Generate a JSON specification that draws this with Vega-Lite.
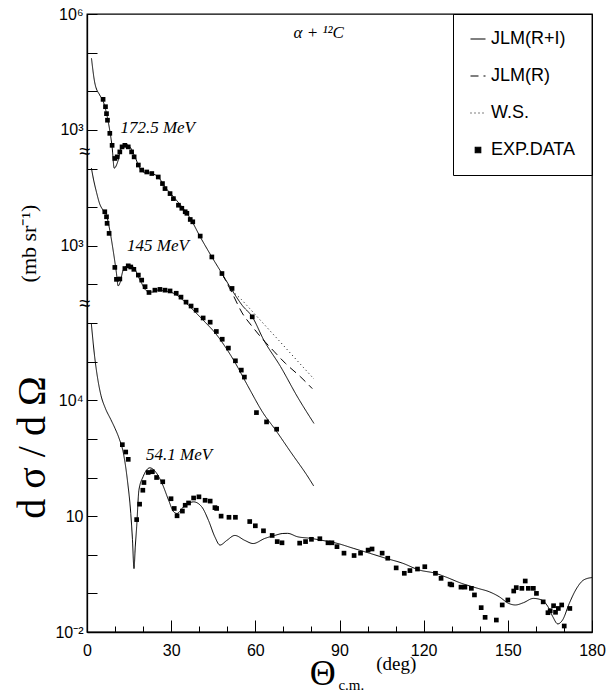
{
  "$schema": "https://vega.github.io/schema/vega-lite/v6.json",
  "width": 505,
  "height": 618,
  "autosize": "none",
  "padding": {"left": 87, "top": 14, "right": 21, "bottom": 62},
  "background": "white",
  "config": {
    "view": {"stroke": "black", "strokeWidth": 1.3},
    "font": "Liberation Sans",
    "axis": {"grid": false, "domainColor": "black", "tickColor": "black", "labelColor": "black", "domainWidth": 1.3, "tickWidth": 1, "labelOverlap": false, "labelFlush": false},
    "axisX": {
      "values": [0, 10, 20, 30, 40, 50, 60, 70, 80, 90, 100, 110, 120, 130, 140, 150, 160, 170, 180],
      "labelExpr": "datum.value % 30 === 0 ? datum.label : ''",
      "labelPadding": 22,
      "labelFontSize": 16,
      "labelFont": "Liberation Sans",
      "title": null
    }
  },
  "datasets": {
    "curves": [
      {"energy": "172.5 MeV", "model": "JLM(R+I)", "theta": 1.6, "sigma": 71000},
      {"energy": "172.5 MeV", "model": "JLM(R+I)", "theta": 2.8, "sigma": 16200},
      {"energy": "172.5 MeV", "model": "JLM(R+I)", "theta": 4.55, "sigma": 7940},
      {"energy": "172.5 MeV", "model": "JLM(R+I)", "theta": 5.6, "sigma": 5890},
      {"energy": "172.5 MeV", "model": "JLM(R+I)", "theta": 6.95, "sigma": 2690},
      {"energy": "172.5 MeV", "model": "JLM(R+I)", "theta": 8.1, "sigma": 977},
      {"energy": "172.5 MeV", "model": "JLM(R+I)", "theta": 8.95, "sigma": 363},
      {"energy": "172.5 MeV", "model": "JLM(R+I)", "theta": 9.7, "sigma": 102},
      {"energy": "172.5 MeV", "model": "JLM(R+I)", "theta": 11.1, "sigma": 162},
      {"energy": "172.5 MeV", "model": "JLM(R+I)", "theta": 12.3, "sigma": 363},
      {"energy": "172.5 MeV", "model": "JLM(R+I)", "theta": 13.5, "sigma": 427},
      {"energy": "172.5 MeV", "model": "JLM(R+I)", "theta": 15.3, "sigma": 363},
      {"energy": "172.5 MeV", "model": "JLM(R+I)", "theta": 17.1, "sigma": 200},
      {"energy": "172.5 MeV", "model": "JLM(R+I)", "theta": 18.9, "sigma": 100},
      {"energy": "172.5 MeV", "model": "JLM(R+I)", "theta": 20.05, "sigma": 81.3},
      {"energy": "172.5 MeV", "model": "JLM(R+I)", "theta": 23.1, "sigma": 74.1},
      {"energy": "172.5 MeV", "model": "JLM(R+I)", "theta": 25.4, "sigma": 60.3},
      {"energy": "172.5 MeV", "model": "JLM(R+I)", "theta": 27.8, "sigma": 33.1},
      {"energy": "172.5 MeV", "model": "JLM(R+I)", "theta": 30.8, "sigma": 18.6},
      {"energy": "172.5 MeV", "model": "JLM(R+I)", "theta": 33.8, "sigma": 10.2},
      {"energy": "172.5 MeV", "model": "JLM(R+I)", "theta": 36.8, "sigma": 5.13},
      {"energy": "172.5 MeV", "model": "JLM(R+I)", "theta": 40.35, "sigma": 1.7},
      {"energy": "172.5 MeV", "model": "JLM(R+I)", "theta": 44.5, "sigma": 0.513},
      {"energy": "172.5 MeV", "model": "JLM(R+I)", "theta": 48.1, "sigma": 0.191},
      {"energy": "172.5 MeV", "model": "JLM(R+I)", "theta": 51.7, "sigma": 0.0708},
      {"energy": "172.5 MeV", "model": "JLM(R+I)", "theta": 55.3, "sigma": 0.0288},
      {"energy": "172.5 MeV", "model": "JLM(R+I)", "theta": 58.9, "sigma": 0.01445},
      {"energy": "172.5 MeV", "model": "JLM(R+I)", "theta": 63.0, "sigma": 0.00363},
      {"energy": "172.5 MeV", "model": "JLM(R+I)", "theta": 69.0, "sigma": 0.000741},
      {"energy": "172.5 MeV", "model": "JLM(R+I)", "theta": 75.0, "sigma": 0.000123},
      {"energy": "172.5 MeV", "model": "JLM(R+I)", "theta": 80.9, "sigma": 0.0000251},
      {"energy": "172.5 MeV", "model": "JLM(R)", "theta": 48.1, "sigma": 0.191},
      {"energy": "172.5 MeV", "model": "JLM(R)", "theta": 51.7, "sigma": 0.0603},
      {"energy": "172.5 MeV", "model": "JLM(R)", "theta": 55.3, "sigma": 0.0182},
      {"energy": "172.5 MeV", "model": "JLM(R)", "theta": 58.9, "sigma": 0.0081},
      {"energy": "172.5 MeV", "model": "JLM(R)", "theta": 61.9, "sigma": 0.00437},
      {"energy": "172.5 MeV", "model": "JLM(R)", "theta": 66.6, "sigma": 0.00186},
      {"energy": "172.5 MeV", "model": "JLM(R)", "theta": 70.8, "sigma": 0.000891},
      {"energy": "172.5 MeV", "model": "JLM(R)", "theta": 76.2, "sigma": 0.000398},
      {"energy": "172.5 MeV", "model": "JLM(R)", "theta": 80.3, "sigma": 0.0002},
      {"energy": "172.5 MeV", "model": "W.S.", "theta": 48.1, "sigma": 0.191},
      {"energy": "172.5 MeV", "model": "W.S.", "theta": 51.7, "sigma": 0.0708},
      {"energy": "172.5 MeV", "model": "W.S.", "theta": 55.0, "sigma": 0.0408},
      {"energy": "172.5 MeV", "model": "W.S.", "theta": 57.0, "sigma": 0.0284},
      {"energy": "172.5 MeV", "model": "W.S.", "theta": 61.0, "sigma": 0.01365},
      {"energy": "172.5 MeV", "model": "W.S.", "theta": 65.0, "sigma": 0.00656},
      {"energy": "172.5 MeV", "model": "W.S.", "theta": 69.0, "sigma": 0.00316},
      {"energy": "172.5 MeV", "model": "W.S.", "theta": 73.0, "sigma": 0.00151},
      {"energy": "172.5 MeV", "model": "W.S.", "theta": 77.0, "sigma": 0.000724},
      {"energy": "172.5 MeV", "model": "W.S.", "theta": 80.9, "sigma": 0.000355},
      {"energy": "145 MeV", "model": "JLM(R+I)", "theta": 1.58, "sigma": 102000},
      {"energy": "145 MeV", "model": "JLM(R+I)", "theta": 2.15, "sigma": 60300},
      {"energy": "145 MeV", "model": "JLM(R+I)", "theta": 3.37, "sigma": 24500},
      {"energy": "145 MeV", "model": "JLM(R+I)", "theta": 4.55, "sigma": 12000},
      {"energy": "145 MeV", "model": "JLM(R+I)", "theta": 5.73, "sigma": 8320},
      {"energy": "145 MeV", "model": "JLM(R+I)", "theta": 6.95, "sigma": 6170},
      {"energy": "145 MeV", "model": "JLM(R+I)", "theta": 8.13, "sigma": 2510},
      {"energy": "145 MeV", "model": "JLM(R+I)", "theta": 9.3, "sigma": 776},
      {"energy": "145 MeV", "model": "JLM(R+I)", "theta": 10.5, "sigma": 195},
      {"energy": "145 MeV", "model": "JLM(R+I)", "theta": 11.1, "sigma": 91.2},
      {"energy": "145 MeV", "model": "JLM(R+I)", "theta": 11.7, "sigma": 107},
      {"energy": "145 MeV", "model": "JLM(R+I)", "theta": 12.9, "sigma": 234},
      {"energy": "145 MeV", "model": "JLM(R+I)", "theta": 14.7, "sigma": 316},
      {"energy": "145 MeV", "model": "JLM(R+I)", "theta": 16.5, "sigma": 282},
      {"energy": "145 MeV", "model": "JLM(R+I)", "theta": 18.9, "sigma": 129},
      {"energy": "145 MeV", "model": "JLM(R+I)", "theta": 21.3, "sigma": 67.6},
      {"energy": "145 MeV", "model": "JLM(R+I)", "theta": 23.2, "sigma": 63.1},
      {"energy": "145 MeV", "model": "JLM(R+I)", "theta": 25.0, "sigma": 70.8},
      {"energy": "145 MeV", "model": "JLM(R+I)", "theta": 27.8, "sigma": 67.6},
      {"energy": "145 MeV", "model": "JLM(R+I)", "theta": 31.4, "sigma": 56.2},
      {"energy": "145 MeV", "model": "JLM(R+I)", "theta": 35.0, "sigma": 34.7},
      {"energy": "145 MeV", "model": "JLM(R+I)", "theta": 38.6, "sigma": 19.1},
      {"energy": "145 MeV", "model": "JLM(R+I)", "theta": 42.1, "sigma": 10.5},
      {"energy": "145 MeV", "model": "JLM(R+I)", "theta": 45.7, "sigma": 5.5},
      {"energy": "145 MeV", "model": "JLM(R+I)", "theta": 49.3, "sigma": 2.4},
      {"energy": "145 MeV", "model": "JLM(R+I)", "theta": 52.9, "sigma": 0.912},
      {"energy": "145 MeV", "model": "JLM(R+I)", "theta": 56.5, "sigma": 0.302},
      {"energy": "145 MeV", "model": "JLM(R+I)", "theta": 58.3, "sigma": 0.174},
      {"energy": "145 MeV", "model": "JLM(R+I)", "theta": 62.6, "sigma": 0.049},
      {"energy": "145 MeV", "model": "JLM(R+I)", "theta": 67.2, "sigma": 0.017},
      {"energy": "145 MeV", "model": "JLM(R+I)", "theta": 72.6, "sigma": 0.00457},
      {"energy": "145 MeV", "model": "JLM(R+I)", "theta": 79.0, "sigma": 0.000977},
      {"energy": "145 MeV", "model": "JLM(R+I)", "theta": 80.8, "sigma": 0.000603},
      {"energy": "54.1 MeV", "model": "JLM(R+I)", "theta": 1.55, "sigma": 955000},
      {"energy": "54.1 MeV", "model": "JLM(R+I)", "theta": 2.74, "sigma": 132000},
      {"energy": "54.1 MeV", "model": "JLM(R+I)", "theta": 3.9, "sigma": 33100},
      {"energy": "54.1 MeV", "model": "JLM(R+I)", "theta": 5.0, "sigma": 13200},
      {"energy": "54.1 MeV", "model": "JLM(R+I)", "theta": 6.5, "sigma": 6310},
      {"energy": "54.1 MeV", "model": "JLM(R+I)", "theta": 8.5, "sigma": 3160},
      {"energy": "54.1 MeV", "model": "JLM(R+I)", "theta": 10.0, "sigma": 1860},
      {"energy": "54.1 MeV", "model": "JLM(R+I)", "theta": 11.4, "sigma": 1050},
      {"energy": "54.1 MeV", "model": "JLM(R+I)", "theta": 13.0, "sigma": 417},
      {"energy": "54.1 MeV", "model": "JLM(R+I)", "theta": 14.4, "sigma": 85.1},
      {"energy": "54.1 MeV", "model": "JLM(R+I)", "theta": 15.6, "sigma": 11.7},
      {"energy": "54.1 MeV", "model": "JLM(R+I)", "theta": 16.2, "sigma": 2.51},
      {"energy": "54.1 MeV", "model": "JLM(R+I)", "theta": 16.75, "sigma": 0.437},
      {"energy": "54.1 MeV", "model": "JLM(R+I)", "theta": 17.2, "sigma": 1.58},
      {"energy": "54.1 MeV", "model": "JLM(R+I)", "theta": 17.7, "sigma": 5.25},
      {"energy": "54.1 MeV", "model": "JLM(R+I)", "theta": 18.5, "sigma": 46.8},
      {"energy": "54.1 MeV", "model": "JLM(R+I)", "theta": 20.0, "sigma": 105},
      {"energy": "54.1 MeV", "model": "JLM(R+I)", "theta": 22.4, "sigma": 178},
      {"energy": "54.1 MeV", "model": "JLM(R+I)", "theta": 24.4, "sigma": 141},
      {"energy": "54.1 MeV", "model": "JLM(R+I)", "theta": 26.8, "sigma": 69.2},
      {"energy": "54.1 MeV", "model": "JLM(R+I)", "theta": 29.1, "sigma": 25.7},
      {"energy": "54.1 MeV", "model": "JLM(R+I)", "theta": 30.9, "sigma": 12.9},
      {"energy": "54.1 MeV", "model": "JLM(R+I)", "theta": 32.1, "sigma": 11.7},
      {"energy": "54.1 MeV", "model": "JLM(R+I)", "theta": 34.4, "sigma": 17.4},
      {"energy": "54.1 MeV", "model": "JLM(R+I)", "theta": 38.0, "sigma": 23.4},
      {"energy": "54.1 MeV", "model": "JLM(R+I)", "theta": 40.9, "sigma": 17.4},
      {"energy": "54.1 MeV", "model": "JLM(R+I)", "theta": 43.3, "sigma": 7.76},
      {"energy": "54.1 MeV", "model": "JLM(R+I)", "theta": 45.6, "sigma": 2.88},
      {"energy": "54.1 MeV", "model": "JLM(R+I)", "theta": 47.4, "sigma": 1.78},
      {"energy": "54.1 MeV", "model": "JLM(R+I)", "theta": 49.8, "sigma": 2.34},
      {"energy": "54.1 MeV", "model": "JLM(R+I)", "theta": 52.7, "sigma": 3.16},
      {"energy": "54.1 MeV", "model": "JLM(R+I)", "theta": 56.3, "sigma": 2.34},
      {"energy": "54.1 MeV", "model": "JLM(R+I)", "theta": 59.2, "sigma": 1.95},
      {"energy": "54.1 MeV", "model": "JLM(R+I)", "theta": 63.3, "sigma": 2.63},
      {"energy": "54.1 MeV", "model": "JLM(R+I)", "theta": 66.9, "sigma": 3.16},
      {"energy": "54.1 MeV", "model": "JLM(R+I)", "theta": 69.8, "sigma": 3.55},
      {"energy": "54.1 MeV", "model": "JLM(R+I)", "theta": 71.5, "sigma": 3.58},
      {"energy": "54.1 MeV", "model": "JLM(R+I)", "theta": 75.0, "sigma": 2.93},
      {"energy": "54.1 MeV", "model": "JLM(R+I)", "theta": 79.7, "sigma": 2.66},
      {"energy": "54.1 MeV", "model": "JLM(R+I)", "theta": 83.2, "sigma": 2.4},
      {"energy": "54.1 MeV", "model": "JLM(R+I)", "theta": 89.1, "sigma": 1.98},
      {"energy": "54.1 MeV", "model": "JLM(R+I)", "theta": 94.9, "sigma": 1.47},
      {"energy": "54.1 MeV", "model": "JLM(R+I)", "theta": 100.8, "sigma": 1.09},
      {"energy": "54.1 MeV", "model": "JLM(R+I)", "theta": 106.6, "sigma": 0.807},
      {"energy": "54.1 MeV", "model": "JLM(R+I)", "theta": 112.5, "sigma": 0.603},
      {"energy": "54.1 MeV", "model": "JLM(R+I)", "theta": 118.4, "sigma": 0.403},
      {"energy": "54.1 MeV", "model": "JLM(R+I)", "theta": 124.2, "sigma": 0.331},
      {"energy": "54.1 MeV", "model": "JLM(R+I)", "theta": 127.7, "sigma": 0.269},
      {"energy": "54.1 MeV", "model": "JLM(R+I)", "theta": 133.5, "sigma": 0.182},
      {"energy": "54.1 MeV", "model": "JLM(R+I)", "theta": 139.3, "sigma": 0.135},
      {"energy": "54.1 MeV", "model": "JLM(R+I)", "theta": 143.4, "sigma": 0.11},
      {"energy": "54.1 MeV", "model": "JLM(R+I)", "theta": 146.9, "sigma": 0.082},
      {"energy": "54.1 MeV", "model": "JLM(R+I)", "theta": 150.3, "sigma": 0.055},
      {"energy": "54.1 MeV", "model": "JLM(R+I)", "theta": 152.7, "sigma": 0.0501},
      {"energy": "54.1 MeV", "model": "JLM(R+I)", "theta": 155.6, "sigma": 0.0575},
      {"energy": "54.1 MeV", "model": "JLM(R+I)", "theta": 159.1, "sigma": 0.0741},
      {"energy": "54.1 MeV", "model": "JLM(R+I)", "theta": 162.0, "sigma": 0.0676},
      {"energy": "54.1 MeV", "model": "JLM(R+I)", "theta": 164.3, "sigma": 0.0452},
      {"energy": "54.1 MeV", "model": "JLM(R+I)", "theta": 166.0, "sigma": 0.0251},
      {"energy": "54.1 MeV", "model": "JLM(R+I)", "theta": 167.8, "sigma": 0.0162},
      {"energy": "54.1 MeV", "model": "JLM(R+I)", "theta": 169.5, "sigma": 0.0204},
      {"energy": "54.1 MeV", "model": "JLM(R+I)", "theta": 171.9, "sigma": 0.055},
      {"energy": "54.1 MeV", "model": "JLM(R+I)", "theta": 174.2, "sigma": 0.123},
      {"energy": "54.1 MeV", "model": "JLM(R+I)", "theta": 177.1, "sigma": 0.224},
      {"energy": "54.1 MeV", "model": "JLM(R+I)", "theta": 180.0, "sigma": 0.257}
    ],
    "points": [
      {"energy": "172.5 MeV", "theta": 5.73, "sigma": 6170},
      {"energy": "172.5 MeV", "theta": 6.59, "sigma": 3980},
      {"energy": "172.5 MeV", "theta": 6.95, "sigma": 2630},
      {"energy": "172.5 MeV", "theta": 7.3, "sigma": 1780},
      {"energy": "172.5 MeV", "theta": 8.13, "sigma": 813},
      {"energy": "172.5 MeV", "theta": 8.95, "sigma": 398},
      {"energy": "172.5 MeV", "theta": 9.92, "sigma": 182},
      {"energy": "172.5 MeV", "theta": 10.74, "sigma": 200},
      {"energy": "172.5 MeV", "theta": 11.7, "sigma": 269},
      {"energy": "172.5 MeV", "theta": 12.5, "sigma": 363},
      {"energy": "172.5 MeV", "theta": 13.5, "sigma": 398},
      {"energy": "172.5 MeV", "theta": 14.7, "sigma": 363},
      {"energy": "172.5 MeV", "theta": 15.9, "sigma": 269},
      {"energy": "172.5 MeV", "theta": 16.8, "sigma": 200},
      {"energy": "172.5 MeV", "theta": 18.3, "sigma": 123},
      {"energy": "172.5 MeV", "theta": 19.5, "sigma": 91.2},
      {"energy": "172.5 MeV", "theta": 21.3, "sigma": 81.3},
      {"energy": "172.5 MeV", "theta": 23.1, "sigma": 74.1},
      {"energy": "172.5 MeV", "theta": 25.4, "sigma": 60.3},
      {"energy": "172.5 MeV", "theta": 26.9, "sigma": 40.7},
      {"energy": "172.5 MeV", "theta": 27.8, "sigma": 30.2},
      {"energy": "172.5 MeV", "theta": 29.6, "sigma": 22.4},
      {"energy": "172.5 MeV", "theta": 30.8, "sigma": 16.6},
      {"energy": "172.5 MeV", "theta": 32.6, "sigma": 11.2},
      {"energy": "172.5 MeV", "theta": 33.8, "sigma": 9.33},
      {"energy": "172.5 MeV", "theta": 35.0, "sigma": 7.59},
      {"energy": "172.5 MeV", "theta": 35.6, "sigma": 6.92},
      {"energy": "172.5 MeV", "theta": 36.8, "sigma": 4.79},
      {"energy": "172.5 MeV", "theta": 37.7, "sigma": 4.17},
      {"energy": "172.5 MeV", "theta": 40.35, "sigma": 1.78},
      {"energy": "172.5 MeV", "theta": 44.5, "sigma": 0.513},
      {"energy": "172.5 MeV", "theta": 48.1, "sigma": 0.191},
      {"energy": "172.5 MeV", "theta": 51.7, "sigma": 0.0785},
      {"energy": "172.5 MeV", "theta": 58.9, "sigma": 0.01445},
      {"energy": "145 MeV", "theta": 6.34, "sigma": 7590},
      {"energy": "145 MeV", "theta": 6.95, "sigma": 5620},
      {"energy": "145 MeV", "theta": 7.16, "sigma": 3800},
      {"energy": "145 MeV", "theta": 7.88, "sigma": 2090},
      {"energy": "145 MeV", "theta": 9.92, "sigma": 275},
      {"energy": "145 MeV", "theta": 10.5, "sigma": 135},
      {"energy": "145 MeV", "theta": 11.7, "sigma": 138},
      {"energy": "145 MeV", "theta": 13.5, "sigma": 257},
      {"energy": "145 MeV", "theta": 14.7, "sigma": 302},
      {"energy": "145 MeV", "theta": 15.6, "sigma": 282},
      {"energy": "145 MeV", "theta": 16.7, "sigma": 245},
      {"energy": "145 MeV", "theta": 18.3, "sigma": 174},
      {"energy": "145 MeV", "theta": 19.5, "sigma": 129},
      {"energy": "145 MeV", "theta": 20.7, "sigma": 87.1},
      {"energy": "145 MeV", "theta": 22.1, "sigma": 61.7},
      {"energy": "145 MeV", "theta": 24.2, "sigma": 70.8},
      {"energy": "145 MeV", "theta": 26.0, "sigma": 74.1},
      {"energy": "145 MeV", "theta": 27.8, "sigma": 70.8},
      {"energy": "145 MeV", "theta": 29.6, "sigma": 67.6},
      {"energy": "145 MeV", "theta": 31.8, "sigma": 58.9},
      {"energy": "145 MeV", "theta": 33.5, "sigma": 46.8},
      {"energy": "145 MeV", "theta": 35.3, "sigma": 34.7},
      {"energy": "145 MeV", "theta": 37.1, "sigma": 27.5},
      {"energy": "145 MeV", "theta": 38.9, "sigma": 21.4},
      {"energy": "145 MeV", "theta": 41.4, "sigma": 13.5},
      {"energy": "145 MeV", "theta": 43.9, "sigma": 10.5},
      {"energy": "145 MeV", "theta": 46.1, "sigma": 6.03},
      {"energy": "145 MeV", "theta": 48.2, "sigma": 3.8},
      {"energy": "145 MeV", "theta": 50.4, "sigma": 2.24},
      {"energy": "145 MeV", "theta": 52.9, "sigma": 1.05},
      {"energy": "145 MeV", "theta": 55.0, "sigma": 0.603},
      {"energy": "145 MeV", "theta": 56.1, "sigma": 0.398},
      {"energy": "145 MeV", "theta": 60.4, "sigma": 0.0479},
      {"energy": "145 MeV", "theta": 64.0, "sigma": 0.0275},
      {"energy": "145 MeV", "theta": 67.6, "sigma": 0.0178},
      {"energy": "54.1 MeV", "theta": 12.6, "sigma": 708},
      {"energy": "54.1 MeV", "theta": 13.8, "sigma": 457},
      {"energy": "54.1 MeV", "theta": 14.7, "sigma": 295},
      {"energy": "54.1 MeV", "theta": 17.7, "sigma": 8.13},
      {"energy": "54.1 MeV", "theta": 18.75, "sigma": 20.4},
      {"energy": "54.1 MeV", "theta": 19.9, "sigma": 46.8},
      {"energy": "54.1 MeV", "theta": 20.3, "sigma": 74.1},
      {"energy": "54.1 MeV", "theta": 21.8, "sigma": 135},
      {"energy": "54.1 MeV", "theta": 23.3, "sigma": 141},
      {"energy": "54.1 MeV", "theta": 24.8, "sigma": 100},
      {"energy": "54.1 MeV", "theta": 27.0, "sigma": 77.6},
      {"energy": "54.1 MeV", "theta": 29.95, "sigma": 28.2},
      {"energy": "54.1 MeV", "theta": 31.1, "sigma": 15.8},
      {"energy": "54.1 MeV", "theta": 32.1, "sigma": 10.2},
      {"energy": "54.1 MeV", "theta": 34.0, "sigma": 13.5},
      {"energy": "54.1 MeV", "theta": 35.0, "sigma": 19.1},
      {"energy": "54.1 MeV", "theta": 36.2, "sigma": 21.9},
      {"energy": "54.1 MeV", "theta": 38.0, "sigma": 29.5},
      {"energy": "54.1 MeV", "theta": 39.9, "sigma": 31.6},
      {"energy": "54.1 MeV", "theta": 42.1, "sigma": 25.7},
      {"energy": "54.1 MeV", "theta": 43.9, "sigma": 24.5},
      {"energy": "54.1 MeV", "theta": 45.6, "sigma": 16.6},
      {"energy": "54.1 MeV", "theta": 46.2, "sigma": 15.8},
      {"energy": "54.1 MeV", "theta": 47.8, "sigma": 10.0},
      {"energy": "54.1 MeV", "theta": 50.6, "sigma": 9.33},
      {"energy": "54.1 MeV", "theta": 52.9, "sigma": 9.33},
      {"energy": "54.1 MeV", "theta": 58.0, "sigma": 7.24},
      {"energy": "54.1 MeV", "theta": 60.0, "sigma": 5.62},
      {"energy": "54.1 MeV", "theta": 62.9, "sigma": 4.17},
      {"energy": "54.1 MeV", "theta": 66.0, "sigma": 3.16},
      {"energy": "54.1 MeV", "theta": 67.8, "sigma": 2.19},
      {"energy": "54.1 MeV", "theta": 69.5, "sigma": 2.04},
      {"energy": "54.1 MeV", "theta": 75.8, "sigma": 2.0},
      {"energy": "54.1 MeV", "theta": 77.9, "sigma": 2.19},
      {"energy": "54.1 MeV", "theta": 80.0, "sigma": 2.51},
      {"energy": "54.1 MeV", "theta": 83.0, "sigma": 2.6},
      {"energy": "54.1 MeV", "theta": 85.9, "sigma": 2.04},
      {"energy": "54.1 MeV", "theta": 87.3, "sigma": 2.04},
      {"energy": "54.1 MeV", "theta": 89.1, "sigma": 1.62},
      {"energy": "54.1 MeV", "theta": 91.6, "sigma": 1.1},
      {"energy": "54.1 MeV", "theta": 95.2, "sigma": 0.955},
      {"energy": "54.1 MeV", "theta": 97.5, "sigma": 1.1},
      {"energy": "54.1 MeV", "theta": 100.2, "sigma": 1.32},
      {"energy": "54.1 MeV", "theta": 101.6, "sigma": 1.41},
      {"energy": "54.1 MeV", "theta": 105.2, "sigma": 1.1},
      {"energy": "54.1 MeV", "theta": 107.2, "sigma": 0.813},
      {"energy": "54.1 MeV", "theta": 110.2, "sigma": 0.457},
      {"energy": "54.1 MeV", "theta": 113.1, "sigma": 0.331},
      {"energy": "54.1 MeV", "theta": 115.1, "sigma": 0.389},
      {"energy": "54.1 MeV", "theta": 117.8, "sigma": 0.427},
      {"energy": "54.1 MeV", "theta": 120.4, "sigma": 0.49},
      {"energy": "54.1 MeV", "theta": 124.2, "sigma": 0.331},
      {"energy": "54.1 MeV", "theta": 126.2, "sigma": 0.245},
      {"energy": "54.1 MeV", "theta": 129.4, "sigma": 0.174},
      {"energy": "54.1 MeV", "theta": 130.0, "sigma": 0.166},
      {"energy": "54.1 MeV", "theta": 133.3, "sigma": 0.145},
      {"energy": "54.1 MeV", "theta": 134.7, "sigma": 0.145},
      {"energy": "54.1 MeV", "theta": 137.0, "sigma": 0.135},
      {"energy": "54.1 MeV", "theta": 138.1, "sigma": 0.0912},
      {"energy": "54.1 MeV", "theta": 140.5, "sigma": 0.0427},
      {"energy": "54.1 MeV", "theta": 141.9, "sigma": 0.024},
      {"energy": "54.1 MeV", "theta": 145.9, "sigma": 0.0204},
      {"energy": "54.1 MeV", "theta": 148.0, "sigma": 0.0501},
      {"energy": "54.1 MeV", "theta": 150.0, "sigma": 0.0676},
      {"energy": "54.1 MeV", "theta": 152.1, "sigma": 0.115},
      {"energy": "54.1 MeV", "theta": 153.0, "sigma": 0.141},
      {"energy": "54.1 MeV", "theta": 155.0, "sigma": 0.135},
      {"energy": "54.1 MeV", "theta": 156.2, "sigma": 0.209},
      {"energy": "54.1 MeV", "theta": 157.3, "sigma": 0.135},
      {"energy": "54.1 MeV", "theta": 159.1, "sigma": 0.135},
      {"energy": "54.1 MeV", "theta": 160.2, "sigma": 0.1},
      {"energy": "54.1 MeV", "theta": 162.6, "sigma": 0.0603},
      {"energy": "54.1 MeV", "theta": 164.3, "sigma": 0.0316},
      {"energy": "54.1 MeV", "theta": 165.1, "sigma": 0.0355},
      {"energy": "54.1 MeV", "theta": 166.3, "sigma": 0.0479},
      {"energy": "54.1 MeV", "theta": 167.0, "sigma": 0.0324},
      {"energy": "54.1 MeV", "theta": 168.0, "sigma": 0.0407},
      {"energy": "54.1 MeV", "theta": 169.2, "sigma": 0.0501},
      {"energy": "54.1 MeV", "theta": 170.1, "sigma": 0.0143},
      {"energy": "54.1 MeV", "theta": 172.1, "sigma": 0.0407}
    ]
  },
  "layer": [
    {
      "data": {"name": "curves"},
      "transform": [{"filter": "datum.energy === '172.5 MeV'"}],
      "mark": {"type": "line", "color": "black", "strokeWidth": 1, "interpolate": "monotone"},
      "encoding": {
        "x": {"field": "theta", "type": "quantitative", "scale": {"domain": [0, 180], "nice": false, "zero": false}, "axis": {"title": null, "tickSize": {"condition": {"test": "datum.value % 30 === 0", "value": -12}, "value": -6}}},
        "y": {
          "field": "sigma",
          "type": "quantitative",
          "scale": {"type": "log", "domain": [1e-10, 1000000], "nice": false},
          "axis": {
            "orient": "left",
            "values": [1000, 10000, 100000, 1000000],
            "labelExpr": "datum.value == 1000 ? '10³' : datum.value == 1000000 ? '10⁶' : ''",
            "tickSize": -10,
            "labelPadding": 14,
            "labelFontSize": 16,
            "domain": false,
            "title": "(mb sr⁻¹)",
            "titleFont": "Liberation Serif",
            "titleFontSize": 22,
            "titleFontWeight": "normal",
            "titleX": -59,
            "titleY": 229,
            "titleAngle": 270,
            "titleAlign": "center",
            "titleBaseline": "middle"
          }
        },
        "strokeDash": {
          "field": "model",
          "type": "nominal",
          "scale": {"domain": ["JLM(R+I)", "JLM(R)", "W.S.", "EXP.DATA"], "range": [[1, 0], [8, 5], [1, 3], [1, 0]]},
          "legend": {
            "orient": "top-right",
            "offset": 0,
            "title": null,
            "strokeColor": "black",
            "padding": 16,
            "rowPadding": 19,
            "labelFontSize": 18,
            "labelFont": "Liberation Sans",
            "labelColor": "black",
            "labelOffset": 4,
            "symbolType": "stroke",
            "symbolSize": 225,
            "symbolStrokeWidth": 1.2,
            "symbolStrokeColor": "black",
            "encode": {
              "symbols": {
                "update": {
                  "shape": {"signal": "datum.value === 'EXP.DATA' ? 'square' : 'stroke'"},
                  "fill": {"signal": "datum.value === 'EXP.DATA' ? 'black' : 'transparent'"},
                  "stroke": {"value": "black"},
                  "strokeWidth": {"value": 1.2},
                  "opacity": {"value": 1},
                  "strokeDash": {"scale": "strokeDash", "field": "value"},
                  "size": {"signal": "datum.value === 'EXP.DATA' ? 30 : 225"}
                }
              }
            }
          }
        }
      }
    },
    {
      "data": {"name": "points"},
      "transform": [{"filter": "datum.energy === '172.5 MeV'"}],
      "mark": {"type": "point", "shape": "square", "filled": true, "color": "black", "size": 22, "opacity": 1},
      "encoding": {
        "x": {"field": "theta", "type": "quantitative", "scale": {"domain": [0, 180], "nice": false, "zero": false}, "axis": {"title": null, "tickSize": {"condition": {"test": "datum.value % 30 === 0", "value": -12}, "value": -6}}},
        "y": {"field": "sigma", "type": "quantitative", "scale": {"type": "log", "domain": [1e-10, 1000000], "nice": false}, "axis": null}
      }
    },
    {
      "data": {"values": [{"label": "172.5 MeV"}]},
      "mark": {"type": "text", "font": "Liberation Serif", "fontStyle": "italic", "fontSize": 17, "align": "center", "baseline": "middle", "fill": "black"},
      "encoding": {
        "text": {"field": "label", "type": "nominal"},
        "x": {"datum": 25.2, "type": "quantitative", "scale": {"domain": [0, 180], "nice": false, "zero": false}, "axis": {"title": null, "tickSize": {"condition": {"test": "datum.value % 30 === 0", "value": -12}, "value": -6}}},
        "y": {"datum": 1100, "type": "quantitative", "scale": {"type": "log", "domain": [1e-10, 1000000], "nice": false}, "axis": null}
      }
    },
    {
      "data": {"values": [{"label": "α + ¹²C"}]},
      "mark": {"type": "text", "font": "Liberation Serif", "fontStyle": "italic", "fontSize": 17, "align": "center", "baseline": "middle", "fill": "black"},
      "encoding": {
        "text": {"field": "label", "type": "nominal"},
        "x": {"datum": 82.6, "type": "quantitative", "scale": {"domain": [0, 180], "nice": false, "zero": false}, "axis": {"title": null, "tickSize": {"condition": {"test": "datum.value % 30 === 0", "value": -12}, "value": -6}}},
        "y": {"datum": 316000, "type": "quantitative", "scale": {"type": "log", "domain": [1e-10, 1000000], "nice": false}, "axis": null}
      }
    },
    {
      "data": {"values": [{"label": "≈"}]},
      "mark": {"type": "text", "fontSize": 20, "align": "center", "baseline": "middle", "fill": "black", "dx": -2},
      "encoding": {
        "text": {"field": "label", "type": "nominal"},
        "x": {"datum": 0, "type": "quantitative", "scale": {"domain": [0, 180], "nice": false, "zero": false}, "axis": {"title": null, "tickSize": {"condition": {"test": "datum.value % 30 === 0", "value": -12}, "value": -6}}},
        "y": {"datum": 263, "type": "quantitative", "scale": {"type": "log", "domain": [1e-10, 1000000], "nice": false}, "axis": null}
      }
    },
    {
      "data": {"name": "curves"},
      "transform": [{"filter": "datum.energy === '145 MeV'"}],
      "mark": {"type": "line", "color": "black", "strokeWidth": 1, "interpolate": "monotone"},
      "encoding": {
        "x": {"field": "theta", "type": "quantitative", "scale": {"domain": [0, 180], "nice": false, "zero": false}, "axis": {"title": null, "tickSize": {"condition": {"test": "datum.value % 30 === 0", "value": -12}, "value": -6}}},
        "y": {
          "field": "sigma",
          "type": "quantitative",
          "scale": {"type": "log", "domain": [1e-7, 1000000000], "nice": false},
          "axis": {
            "orient": "left",
            "values": [100, 1000, 10000, 100000],
            "labelExpr": "datum.value == 1000 ? '10³' : ''",
            "tickSize": -10,
            "labelPadding": 14,
            "labelFontSize": 16,
            "domain": false,
            "title": null
          }
        },
        "strokeDash": {"field": "model", "type": "nominal"}
      }
    },
    {
      "data": {"name": "points"},
      "transform": [{"filter": "datum.energy === '145 MeV'"}],
      "mark": {"type": "point", "shape": "square", "filled": true, "color": "black", "size": 22, "opacity": 1},
      "encoding": {
        "x": {"field": "theta", "type": "quantitative", "scale": {"domain": [0, 180], "nice": false, "zero": false}, "axis": {"title": null, "tickSize": {"condition": {"test": "datum.value % 30 === 0", "value": -12}, "value": -6}}},
        "y": {"field": "sigma", "type": "quantitative", "scale": {"type": "log", "domain": [1e-7, 1000000000], "nice": false}, "axis": null}
      }
    },
    {
      "data": {"values": [{"label": "145 MeV"}]},
      "mark": {"type": "text", "font": "Liberation Serif", "fontStyle": "italic", "fontSize": 17, "align": "center", "baseline": "middle", "fill": "black"},
      "encoding": {
        "text": {"field": "label", "type": "nominal"},
        "x": {"datum": 25.3, "type": "quantitative", "scale": {"domain": [0, 180], "nice": false, "zero": false}, "axis": {"title": null, "tickSize": {"condition": {"test": "datum.value % 30 === 0", "value": -12}, "value": -6}}},
        "y": {"datum": 980, "type": "quantitative", "scale": {"type": "log", "domain": [1e-7, 1000000000], "nice": false}, "axis": null}
      }
    },
    {
      "data": {"name": "curves"},
      "transform": [{"filter": "datum.energy === '54.1 MeV'"}],
      "mark": {"type": "line", "color": "black", "strokeWidth": 1, "interpolate": "monotone"},
      "encoding": {
        "x": {"field": "theta", "type": "quantitative", "scale": {"domain": [0, 180], "nice": false, "zero": false}, "axis": {"title": null, "tickSize": {"condition": {"test": "datum.value % 30 === 0", "value": -12}, "value": -6}}},
        "y": {
          "field": "sigma",
          "type": "quantitative",
          "scale": {"type": "log", "domain": [0.01, 100000000000000], "nice": false},
          "axis": {
            "orient": "left",
            "values": [0.01, 0.1, 1, 10, 100, 1000, 10000, 100000, 1000000],
            "labelExpr": "datum.value == 0.01 ? '10⁻²' : datum.value == 10 ? '10' : datum.value == 10000 ? '10⁴' : ''",
            "tickSize": -10,
            "labelPadding": 14,
            "labelFontSize": 16,
            "title": "d σ / d Ω",
            "titleFont": "Liberation Serif",
            "titleFontSize": 40,
            "titleFontWeight": "normal",
            "titleX": -55,
            "titleY": 433,
            "titleAngle": 270,
            "titleAlign": "center",
            "titleBaseline": "middle"
          }
        },
        "strokeDash": {"field": "model", "type": "nominal"}
      }
    },
    {
      "data": {"name": "points"},
      "transform": [{"filter": "datum.energy === '54.1 MeV'"}],
      "mark": {"type": "point", "shape": "square", "filled": true, "color": "black", "size": 22, "opacity": 1},
      "encoding": {
        "x": {"field": "theta", "type": "quantitative", "scale": {"domain": [0, 180], "nice": false, "zero": false}, "axis": {"title": null, "tickSize": {"condition": {"test": "datum.value % 30 === 0", "value": -12}, "value": -6}}},
        "y": {"field": "sigma", "type": "quantitative", "scale": {"type": "log", "domain": [0.01, 100000000000000], "nice": false}, "axis": null}
      }
    },
    {
      "data": {"values": [{"label": "54.1 MeV"}]},
      "mark": {"type": "text", "font": "Liberation Serif", "fontStyle": "italic", "fontSize": 17, "align": "center", "baseline": "middle", "fill": "black"},
      "encoding": {
        "text": {"field": "label", "type": "nominal"},
        "x": {"datum": 32.8, "type": "quantitative", "scale": {"domain": [0, 180], "nice": false, "zero": false}, "axis": {"title": null, "tickSize": {"condition": {"test": "datum.value % 30 === 0", "value": -12}, "value": -6}}},
        "y": {"datum": 380, "type": "quantitative", "scale": {"type": "log", "domain": [0.01, 100000000000000], "nice": false}, "axis": null}
      }
    },
    {
      "data": {"values": [{"label": "≈"}]},
      "mark": {"type": "text", "fontSize": 20, "align": "center", "baseline": "middle", "fill": "black", "dx": -2},
      "encoding": {
        "text": {"field": "label", "type": "nominal"},
        "x": {"datum": 0, "type": "quantitative", "scale": {"domain": [0, 180], "nice": false, "zero": false}, "axis": {"title": null, "tickSize": {"condition": {"test": "datum.value % 30 === 0", "value": -12}, "value": -6}}},
        "y": {"datum": 3090000, "type": "quantitative", "scale": {"type": "log", "domain": [0.01, 100000000000000], "nice": false}, "axis": null}
      }
    },
    {
      "data": {"values": [{"label": "Θ"}]},
      "mark": {"type": "text", "font": "Liberation Serif", "fontSize": 36, "align": "center", "baseline": "middle", "fill": "black", "dy": 42},
      "encoding": {
        "text": {"field": "label", "type": "nominal"},
        "x": {"datum": 84.0, "type": "quantitative", "scale": {"domain": [0, 180], "nice": false, "zero": false}, "axis": {"title": null, "tickSize": {"condition": {"test": "datum.value % 30 === 0", "value": -12}, "value": -6}}},
        "y": {"datum": 0.01, "type": "quantitative", "scale": {"type": "log", "domain": [0.01, 100000000000000], "nice": false}, "axis": null}
      }
    },
    {
      "data": {"values": [{"label": "c.m."}]},
      "mark": {"type": "text", "font": "Liberation Serif", "fontSize": 15, "align": "center", "baseline": "middle", "fill": "black", "dy": 53},
      "encoding": {
        "text": {"field": "label", "type": "nominal"},
        "x": {"datum": 94.2, "type": "quantitative", "scale": {"domain": [0, 180], "nice": false, "zero": false}, "axis": {"title": null, "tickSize": {"condition": {"test": "datum.value % 30 === 0", "value": -12}, "value": -6}}},
        "y": {"datum": 0.01, "type": "quantitative", "scale": {"type": "log", "domain": [0.01, 100000000000000], "nice": false}, "axis": null}
      }
    },
    {
      "data": {"values": [{"label": "(deg)"}]},
      "mark": {"type": "text", "font": "Liberation Serif", "fontSize": 19, "align": "center", "baseline": "middle", "fill": "black", "dy": 32},
      "encoding": {
        "text": {"field": "label", "type": "nominal"},
        "x": {"datum": 110.2, "type": "quantitative", "scale": {"domain": [0, 180], "nice": false, "zero": false}, "axis": {"title": null, "tickSize": {"condition": {"test": "datum.value % 30 === 0", "value": -12}, "value": -6}}},
        "y": {"datum": 0.01, "type": "quantitative", "scale": {"type": "log", "domain": [0.01, 100000000000000], "nice": false}, "axis": null}
      }
    }
  ],
  "resolve": {"scale": {"y": "independent"}, "axis": {"y": "independent"}}
}
